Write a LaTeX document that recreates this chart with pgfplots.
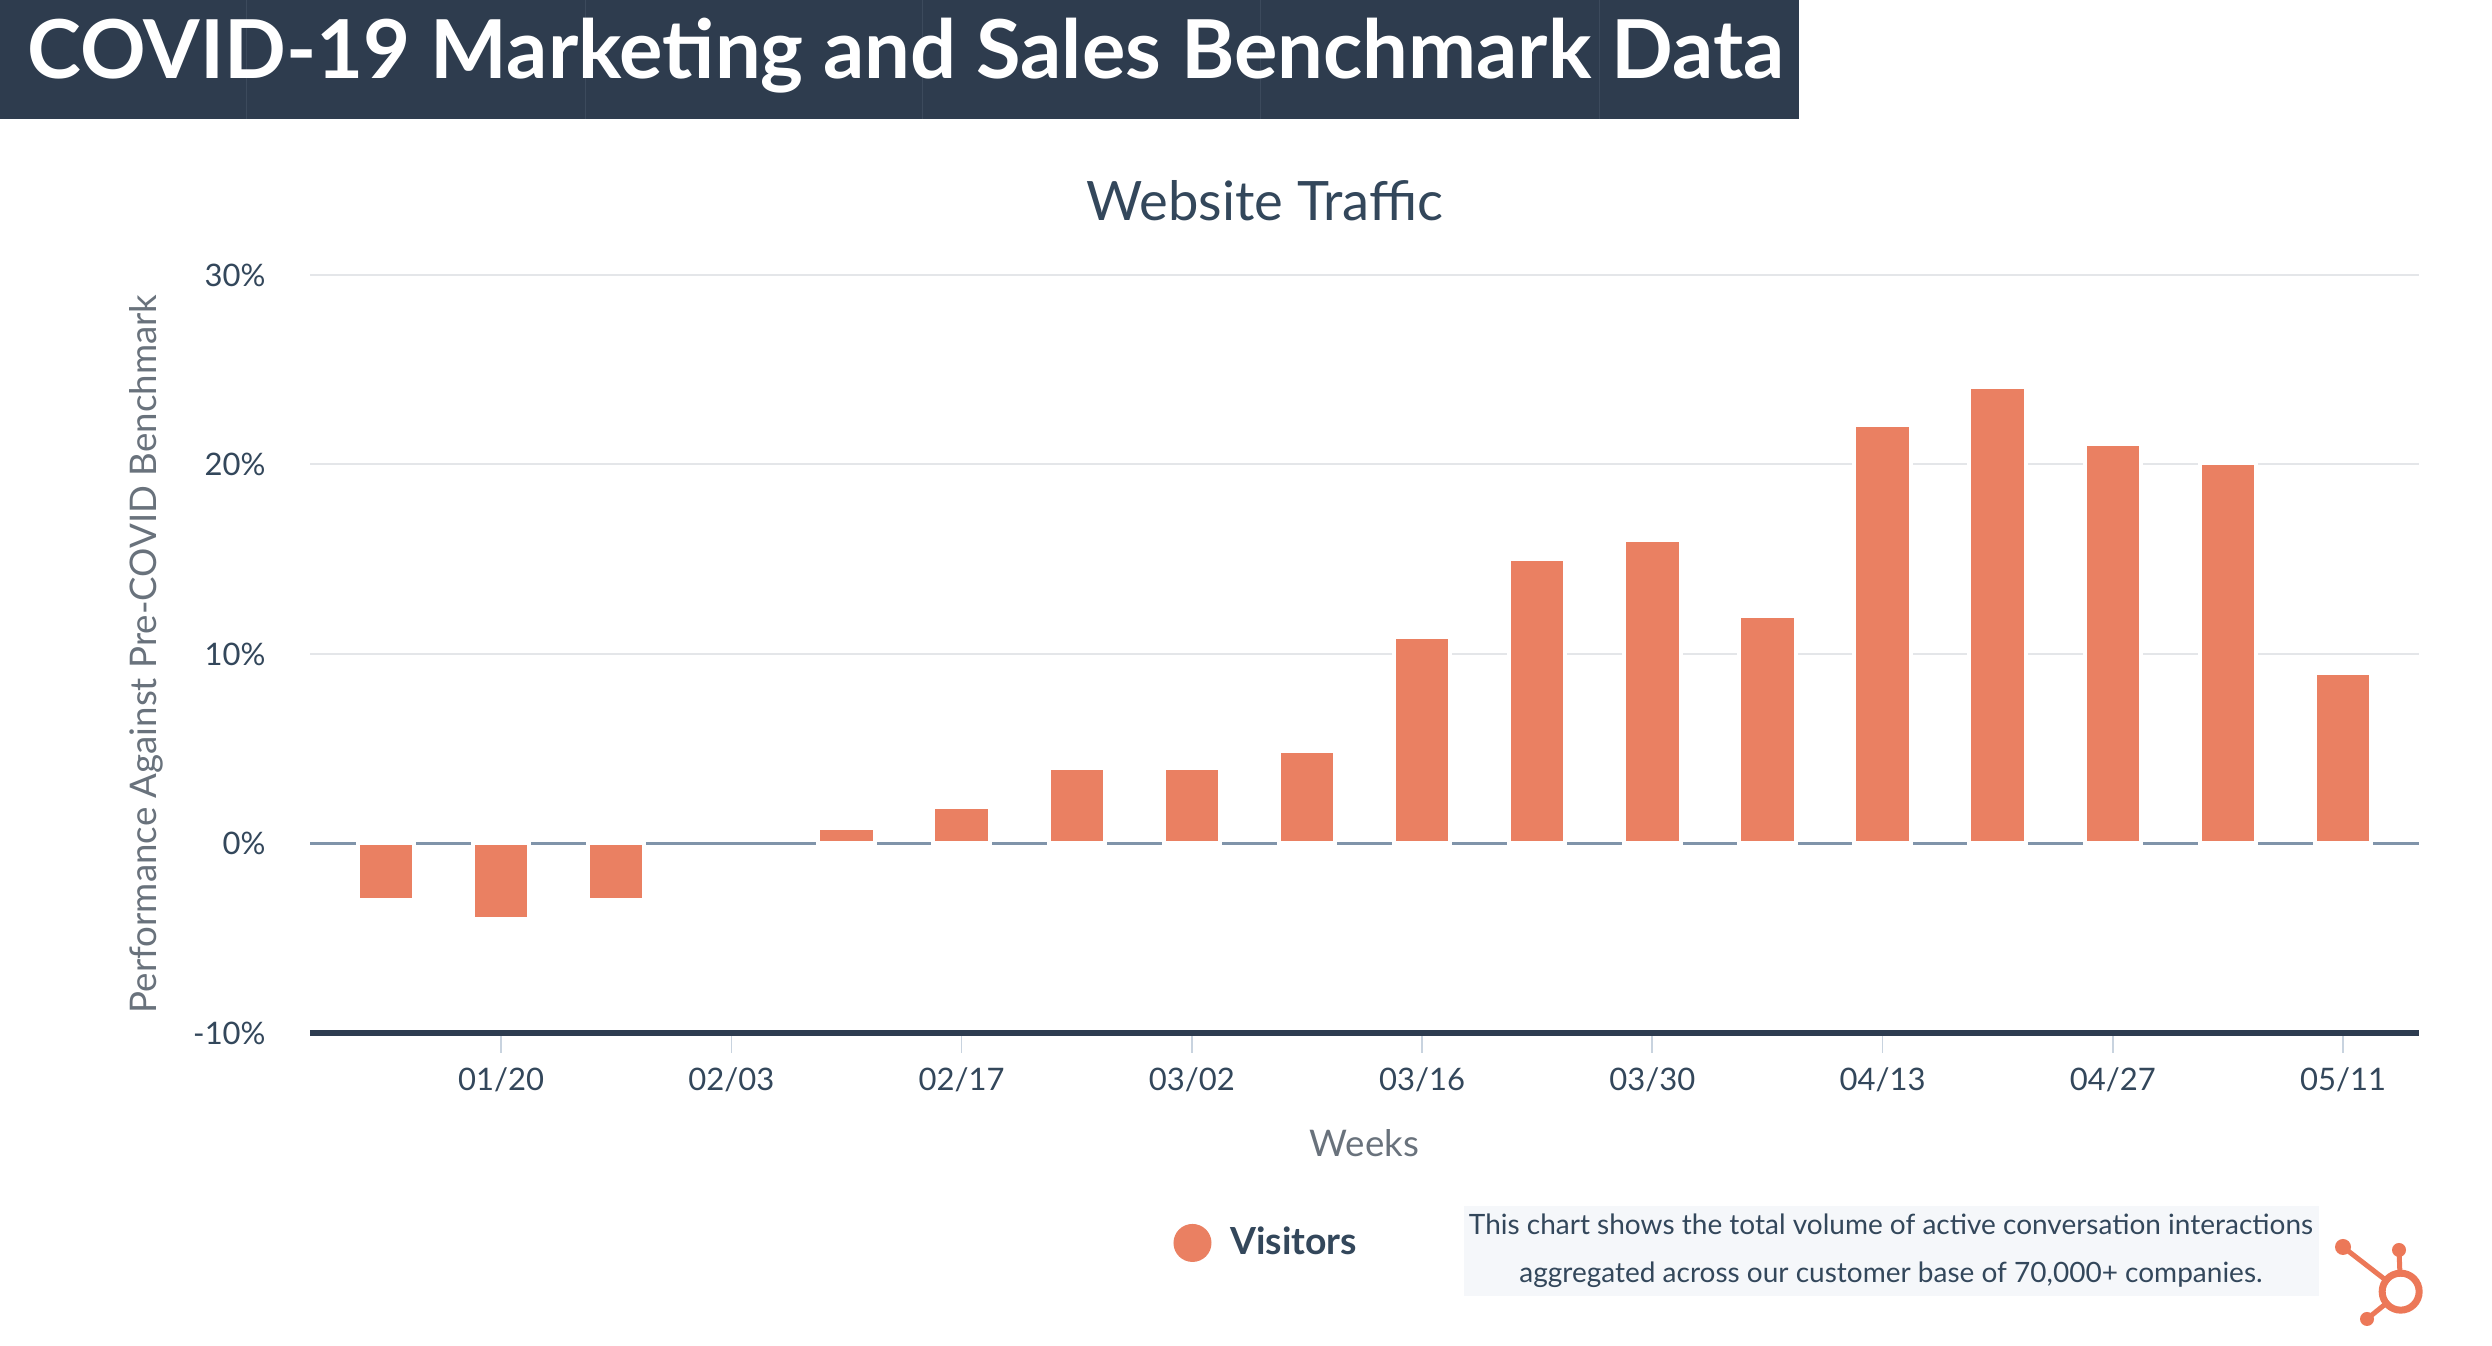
\documentclass[border=0pt]{standalone}
\usepackage{pgfplots}
\pgfplotsset{compat=1.18}
\usepackage{pgfplotstable}
\usepackage{graphicx}
\usepackage{fontspec}
\setmainfont{Lato}

\definecolor{banner}{RGB}{46,60,78}
\definecolor{bannerline}{RGB}{60,74,92}
\definecolor{barcolor}{RGB}{234,128,98}
\definecolor{logo}{RGB}{236,120,88}
\definecolor{slate}{RGB}{51,71,91}
\definecolor{labelgray}{RGB}{105,114,124}
\definecolor{gridgray}{RGB}{228,230,233}
\definecolor{zeroline}{RGB}{128,148,170}
\definecolor{axisnavy}{RGB}{45,60,80}
\definecolor{tickgray}{RGB}{200,211,223}
\definecolor{notebg}{RGB}{245,247,250}

% weekly website visitors vs. pre-COVID benchmark (percent)
\pgfplotstableread{
idx week  value
0   01/13 -3
1   01/20 -4
2   01/27 -3
3   02/03 0
4   02/10 0.8
5   02/17 1.9
6   02/24 4
7   03/02 4
8   03/09 4.9
9   03/16 10.9
10  03/23 15
11  03/30 16
12  04/06 12
13  04/13 22.1
14  04/20 24.1
15  04/27 21.1
16  05/04 20.1
17  05/11 9
}\visitors

\begin{document}
\begin{tikzpicture}
\useasboundingbox (0,0) rectangle (747.6pt,403.8pt);
\fill[white] (0,0) rectangle (747.6pt,403.8pt);

% header banner
\fill[banner] (0,368.1pt) rectangle (539.7pt,403.8pt);
\foreach \lx in {73.8,175.5,276.6,378,479.7}
  \draw[bannerline, line width=0.3pt] (\lx pt,368.1pt) -- (\lx pt,403.8pt);
\node[anchor=base west, inner sep=0pt, text=white] at (8.1pt,380.1pt)
  {\resizebox{526.8pt}{!}{\fontsize{24}{28}\selectfont\bfseries COVID-19 Marketing and Sales Benchmark Data}};

\begin{axis}[
  at={(93pt,93.9pt)}, anchor=south west,
  width=632.7pt, height=227.4pt, scale only axis,
  xmin=-0.66, xmax=17.66, ymin=-10, ymax=30,
  axis lines*=left,
  x axis line style={draw=axisnavy, line width=1.8pt},
  y axis line style={draw=none},
  tick align=outside,
  major tick length=6pt,
  xtick={1,3,5,7,9,11,13,15,17},
  xticklabels={01/20,02/03,02/17,03/02,03/16,03/30,04/13,04/27,05/11},
  x tick style={draw=tickgray, line width=0.5pt},
  xticklabel style={yshift=-1pt},
  ytick={-10,0,10,20,30},
  y tick style={draw=none},
  yticklabel={\pgfmathprintnumber{\tick}\%},
  yticklabel style={xshift=-3.8pt},
  /pgf/number format/assume math mode=true,
  ticklabel style={font=\fontsize{9.3}{11}\selectfont, text=slate},
  ymajorgrids,
  major grid style={draw=gridgray, line width=0.6pt},
  extra y ticks={0},
  extra y tick labels={},
  extra y tick style={grid=major, major grid style={draw=zeroline, line width=1pt}},
  title={Website Traffic},
  title style={at={(rel axis cs:0.4528,1.072)}, anchor=center,
    font=\fontsize{16.3}{19}\selectfont, text=slate},
  xlabel={Weeks},
  xlabel style={at={(rel axis cs:0.5,-0.1451)}, anchor=center,
    font=\fontsize{11}{13}\selectfont, text=labelgray},
  ylabel={Performance Against Pre-COVID Benchmark},
  ylabel style={at={(rel axis cs:-0.0778,0.5)}, anchor=center,
    font=\fontsize{11}{13}\selectfont, text=labelgray},
  legend style={at={(rel axis cs:0.4545,-0.277)}, anchor=center,
    draw=none, fill=none, inner sep=0pt,
    font=\fontsize{11.2}{13}\selectfont\bfseries, text=slate},
]
\addplot[ybar, bar width=0.49, fill=barcolor, draw=white, line width=1.2pt,
  y filter/.expression={y==0 ? nan : y},
  legend image code/.code={\fill[barcolor] (0.1cm,0pt) circle (5.1pt);
    \path (0.1cm,0pt) ++(8.7pt,0pt);}]
  table[x=idx, y=value] {\visitors};
\addlegendentry{Visitors}
\end{axis}

% note box
\fill[notebg] (439.2pt,15pt) rectangle (695.7pt,42pt);
\node[anchor=base, inner sep=0pt, text=slate, font=\fontsize{8.4}{10}\selectfont]
  at (567.3pt,33.3pt) {This chart shows the total volume of active conversation interactions};
\node[anchor=base, inner sep=0pt, text=slate, font=\fontsize{8.4}{10}\selectfont]
  at (567.3pt,18.9pt) {aggregated across our customer base of 70,000+ companies.};

% sprocket logo
\begin{scope}[logo]
  \draw[line width=1.5pt] (702.9pt,29.7pt) -- (720.2pt,16.3pt);
  \draw[line width=1.5pt] (719.7pt,28.8pt) -- (720.2pt,16.3pt);
  \draw[line width=1.5pt] (710.1pt,8.1pt) -- (720.2pt,16.3pt);
  \fill (702.9pt,29.7pt) circle (2.4pt);
  \fill (719.7pt,28.8pt) circle (2.1pt);
  \fill (710.1pt,8.1pt) circle (2.1pt);
  \fill[white] (720.2pt,16.3pt) circle (4.5pt);
  \draw[line width=2.1pt] (720.2pt,16.3pt) circle (5.55pt);
\end{scope}
\end{tikzpicture}
\end{document}
